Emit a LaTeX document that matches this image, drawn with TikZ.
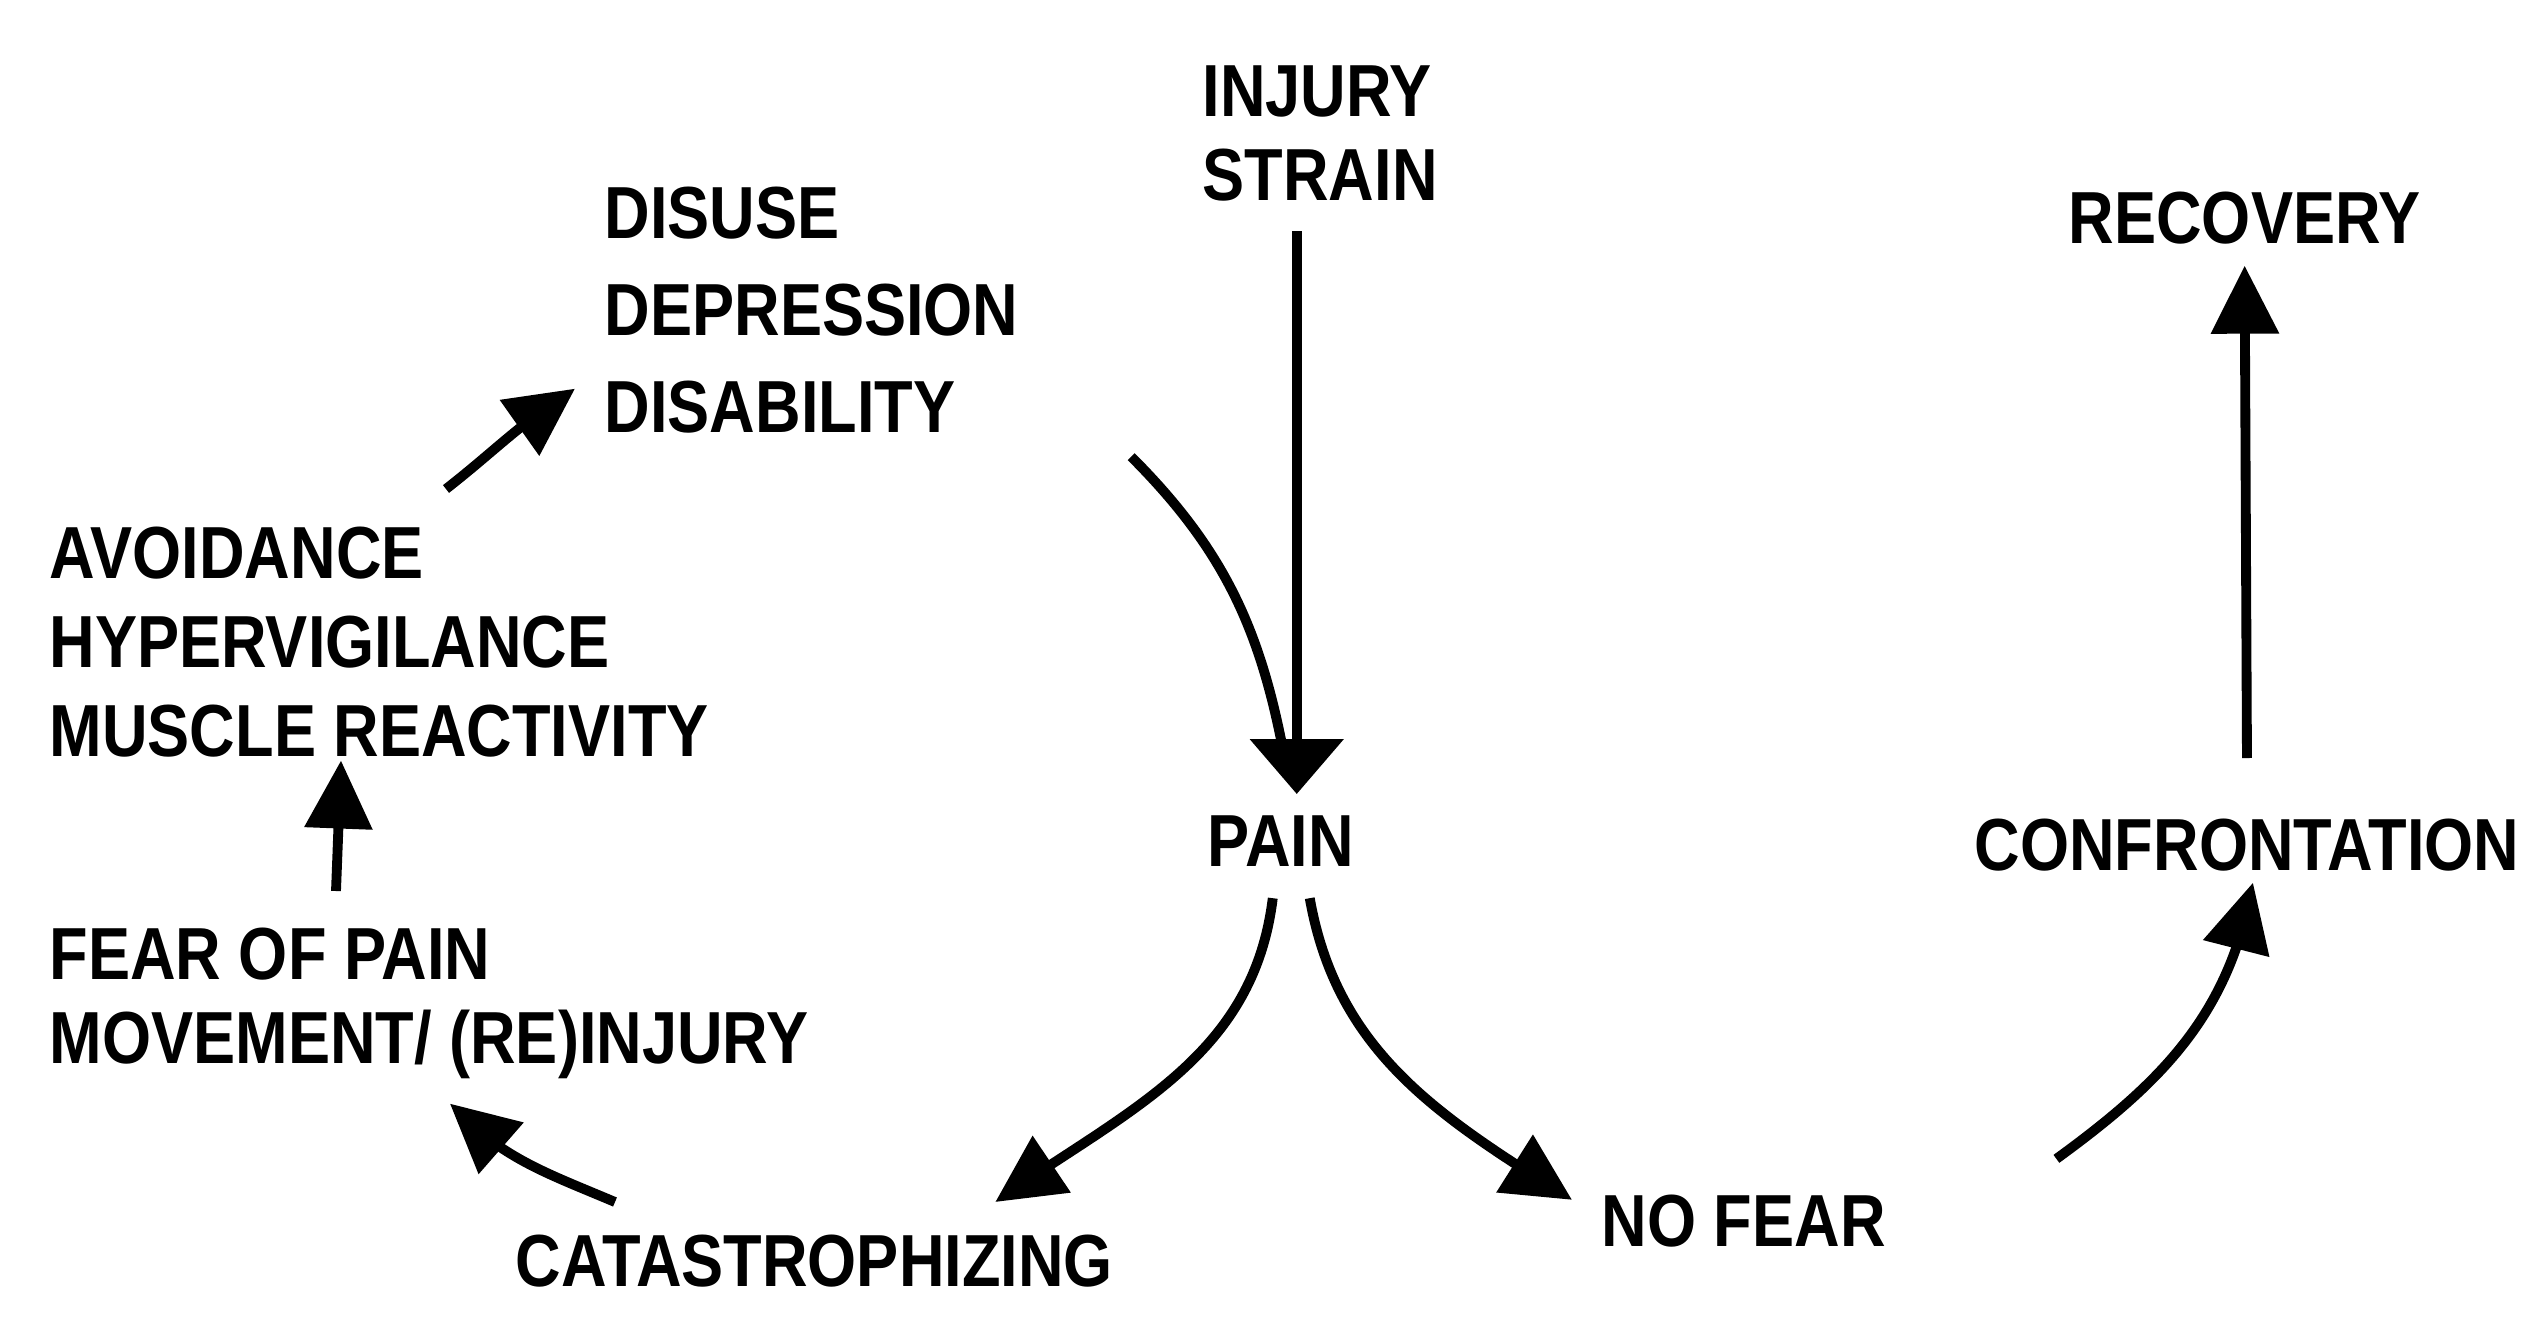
\documentclass[tikz,border=0pt]{standalone}
\usepackage{fontspec}
\setmainfont{Liberation Sans}[FakeStretch=0.855]
\usetikzlibrary{arrows.meta,bending}

\tikzset{
  lbl/.style={font=\fontsize{21}{24}\selectfont\bfseries, inner sep=0pt, align=left},
  arr/.style={line width=2.8pt, -{Triangle[length=0.68cm,width=0.66cm]}},
  bigarr/.style={line width=2.8pt, -{Triangle[length=0.55cm,width=0.92cm]}},
  curve/.style={line width=2.8pt},
}

\begin{document}
\begin{tikzpicture}
\useasboundingbox (0,0) rectangle (25.41,13.35);

\node[lbl,anchor=north west] (injury)   at (12.02,12.70) {INJURY\\STRAIN};
\node[lbl,anchor=north west] (disuse)   at (6.04,11.49)  {DISUSE\\[3.6pt]DEPRESSION\\[3.6pt]DISABILITY};
\node[lbl,anchor=north west] (recovery) at (20.68,11.44) {RECOVERY};
\node[lbl,anchor=north west] (avoid)    at (0.49,8.09)   {AVOIDANCE\\[1.3pt]HYPERVIGILANCE\\[1.3pt]MUSCLE REACTIVITY};
\node[lbl,anchor=north west] (pain)     at (12.07,5.20)  {PAIN};
\node[lbl,anchor=north west] (confront) at (19.74,5.17)  {CONFRONTATION};
\node[lbl,anchor=north west] (fear)     at (0.49,4.08)   {FEAR OF PAIN\\MOVEMENT/ (RE)INJURY};
\node[lbl,anchor=north west] (cata)     at (5.15,1.01)   {CATASTROPHIZING};
\node[lbl,anchor=north west] (nofear)   at (16.01,1.41)  {NO FEAR};

\coordinate (paintop) at ([xshift=0.16cm,yshift=0.21cm]pain.north);
\draw[bigarr] ([yshift=-0.29cm]injury.south -| paintop) -- (paintop);
\draw[curve] ([xshift=1.12cm,yshift=-0.23cm]disuse.south east) to[out=-45,in=100] ([xshift=0.06cm,yshift=0.45cm]pain.north);

\draw[arr] ([xshift=-0.08cm,yshift=-0.31cm]pain.south) to[out=-97,in=35] ([xshift=1.81cm,yshift=0.32cm]cata.north);
\draw[arr] ([xshift=0.29cm,yshift=-0.31cm]pain.south) to[out=-80,in=148] ([xshift=-0.29cm,yshift=0.21cm]nofear.west);
\draw[arr] ([xshift=1.70cm,yshift=0.62cm]nofear.east) to[out=36,in=-100] ([xshift=0.06cm,yshift=-0.11cm]confront.south);
\draw[arr] ([yshift=0.60cm]confront.north) -- ([yshift=-0.21cm]recovery.south);

\draw[arr] ([xshift=1.0cm,yshift=0.32cm]cata.north west) to[out=157,in=-47] ([xshift=0.21cm,yshift=-0.24cm]fear.south);
\draw[arr] ([xshift=2.87cm,yshift=0.36cm]fear.north west) -- ([xshift=2.92cm,yshift=-0.03cm]avoid.south west);
\draw[arr] ([xshift=3.97cm,yshift=0.37cm]avoid.north west) to[out=38,in=-148] ([xshift=-0.29cm,yshift=0.45cm]disuse.south west);
\end{tikzpicture}
\end{document}
